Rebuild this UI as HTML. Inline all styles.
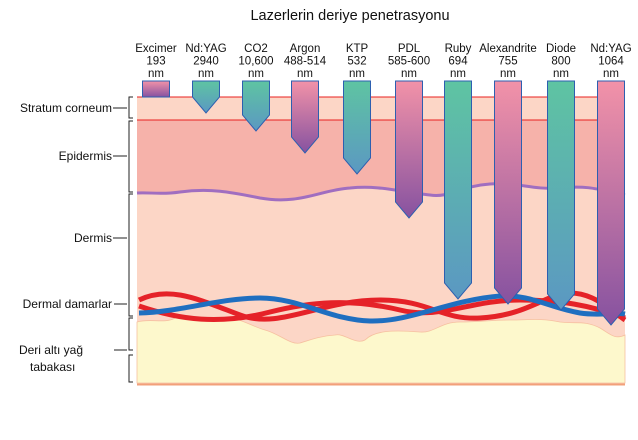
<!DOCTYPE html>
<html><head><meta charset="utf-8"><style>
body{margin:0;background:#fff;width:638px;height:435px;overflow:hidden;font-family:"Liberation Sans",sans-serif}
</style></head><body>
<svg width="638" height="435">
<defs>
<linearGradient id="teal" x1="0" y1="0" x2="0" y2="1"><stop offset="0" stop-color="#5ec4a2"/><stop offset="1" stop-color="#5b98c2"/></linearGradient>
<linearGradient id="pink" x1="0" y1="0" x2="0" y2="1"><stop offset="0" stop-color="#f292a8"/><stop offset="1" stop-color="#8652a0"/></linearGradient>
</defs>
<text x="350" y="20" text-anchor="middle" font-size="14.5" fill="#111">Lazerlerin deriye penetrasyonu</text>
<rect x="137" y="97" width="488" height="288" fill="#fcd6c6"/>
<path d="M137 120 H625 V195 C600 190 590 185 560 188 C530 190 520 182 490 184 C460 186 450 198 430 195 C400 192 380 185 350 188 C320 190 300 205 260 198 C230 192 210 188 180 192 C160 195 150 192 137 193 Z" fill="#f6b2aa"/>
<path d="M137 193 C150 192 160 195 180 192 C210 188 230 192 260 198 C300 205 320 190 350 188 C380 185 400 192 430 195 C450 198 460 186 490 184 C520 182 530 190 560 188 C590 185 600 190 625 195" fill="none" stroke="#a06ec0" stroke-width="3"/>
<path d="M137 322 C150 318 165 324 175 318 C190 312 200 322 215 318 C235 314 250 326 265 330 C280 334 290 345 300 343 C310 340 320 336 335 335 C345 333 355 345 365 340 C375 330 395 330 420 332 C435 333 440 322 460 322 C480 322 490 320 510 320 C530 320 540 318 560 322 C575 324 585 320 600 328 C610 334 615 340 625 335 V383 H137 Z" fill="#fdf8cc" stroke="#f6c0a0" stroke-width="0.8"/>
<line x1="137" y1="384.5" x2="625" y2="384.5" stroke="#f2a07a" stroke-width="2"/>
<line x1="137" y1="97" x2="625" y2="97" stroke="#e82020" stroke-width="1"/>
<line x1="137" y1="120" x2="625" y2="120" stroke="#e82020" stroke-width="1"/>
<path d="M139 300 C170 285 200 300 240 315 C280 330 320 300 380 300 C430 300 440 320 480 318 C520 316 540 300 560 294 C590 288 610 310 625 320" fill="none" stroke="#e52228" stroke-width="5"/>
<path d="M139 306 C180 320 220 325 270 312 C310 302 350 298 400 310 C440 320 470 300 520 300 C560 300 590 305 625 318" fill="none" stroke="#e52228" stroke-width="5"/>
<path d="M139 313 C180 312 220 298 260 298 C300 298 330 320 370 321 C410 322 450 300 500 296 C530 294 550 308 580 313 C600 316 615 312 625 314" fill="none" stroke="#1f6fc0" stroke-width="5"/>
<g id="labels" font-size="11.5" fill="#111"></g>
<g id="bars"></g>
<g id="left" font-size="12" fill="#111"></g>
</svg>
<script>
const lasers=["Excimer","Nd:YAG","CO2","Argon","KTP","PDL","Ruby","Alexandrite","Diode","Nd:YAG"];
const wavelengths=["193","2940","10,600","488-514","532","585-600","694","755","800","1064"];
const depths=[0,16,34,56,77,121,202,207,213,228];
const colors=["pink","teal","teal","pink","teal","pink","teal","pink","teal","pink"];
const centers=[156,206,256,305,357,409,458,508,561,611];
const NS="http://www.w3.org/2000/svg";
const skinTop=97, barTop=81, bw=27, tipH=16;
function yScale(d){return skinTop+d;}
const bars=document.getElementById('bars'), labels=document.getElementById('labels');
lasers.forEach((name,i)=>{
  const cx=centers[i], x0=cx-bw/2, x1=cx+bw/2, tip=yScale(depths[i]);
  let d;
  if(depths[i]===0){d=`M${x0} ${barTop} H${x1} V${tip} H${x0} Z`;}
  else{const sh=Math.max(barTop, tip-tipH);d=`M${x0} ${barTop} H${x1} V${sh} L${cx} ${tip} L${x0} ${sh} Z`;}
  const p=document.createElementNS(NS,'path');
  p.setAttribute('d',d);p.setAttribute('fill',`url(#${colors[i]})`);p.setAttribute('stroke','#2d5fb0');p.setAttribute('stroke-width','1');
  
  
  bars.appendChild(p);
  [name,wavelengths[i],"nm"].forEach((t,j)=>{
    const tx=document.createElementNS(NS,'text');
    tx.setAttribute('x',cx);tx.setAttribute('y',52+j*12.5);tx.setAttribute('text-anchor','middle');tx.textContent=t;
    
    
    labels.appendChild(tx);
  });
});
const layerNames=["Stratum corneum","Epidermis","Dermis","Dermal damarlar","Deri altı yağ"];
const labelY=[112,160,242,308,354];
const bracketTop=[97,121,194,318,355];
const bracketBot=[118,192,316,350,382];
const left=document.getElementById('left');
layerNames.forEach((n,i)=>{
  const t=document.createElementNS(NS,'text');
  t.setAttribute('x', i===4?83:112);t.setAttribute('y',labelY[i]);t.setAttribute('text-anchor','end');t.textContent=n;
  
  
  left.appendChild(t);
  const l=document.createElementNS(NS,'path');
  const my=labelY[i]-4;
  l.setAttribute('d',`M${i>=3?114:113} ${my} H127 M133 ${bracketTop[i]} H129 V${bracketBot[i]} H133`);
  l.setAttribute('stroke','#222');l.setAttribute('fill','none');l.setAttribute('stroke-width','1');
  
  
  left.appendChild(l);
});
const t2=document.createElementNS(NS,'text');
t2.setAttribute('x',30);t2.setAttribute('y',371);t2.textContent="tabakası";


left.appendChild(t2);
</script>
</body></html>
